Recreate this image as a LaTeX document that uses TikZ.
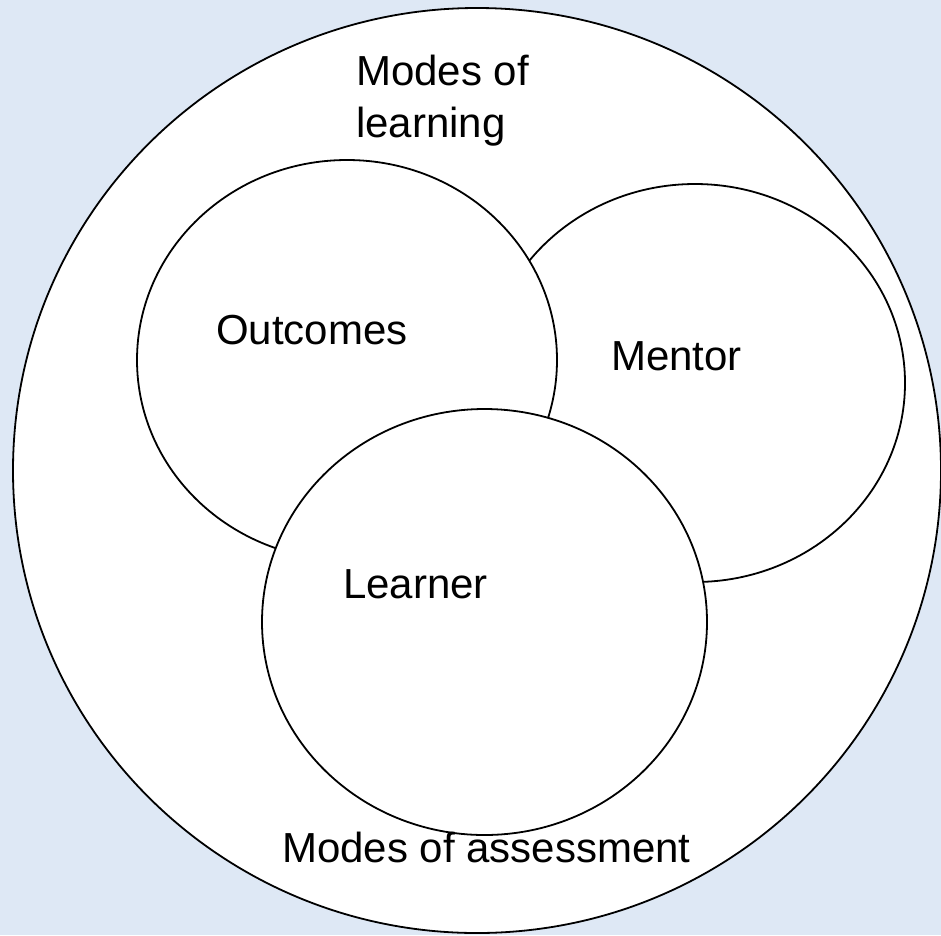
\documentclass[tikz,border=0pt]{standalone}
\usepackage{fontspec}
\setmainfont{Liberation Sans}
\definecolor{bgblue}{RGB}{222,232,245}
\tikzset{
  ring/.style={draw=black, fill=white, line width=1.8pt},
  lbl/.style={inner sep=0pt, anchor=base west, font=\fontsize{42}{52}\selectfont, text=black}
}
\begin{document}
\begin{tikzpicture}[x=1pt,y=-1pt]
  \useasboundingbox (0,0) rectangle (941,935);
  \clip (0,0) rectangle (941,935);
  \fill[bgblue] (0,0) rectangle (941,935);
  % outer ring
  \draw[ring] (477,470.5) ellipse [x radius=464pt, y radius=462.5pt];
  % mentor (behind)
  \draw[ring] (695,383) ellipse [x radius=210pt, y radius=199pt];
  % outcomes
  \draw[ring] (347,360) ellipse [x radius=210pt, y radius=200pt];
  % learner (front)
  \draw[ring] (484.5,622) ellipse [x radius=222.5pt, y radius=213pt];
  % labels
  \node[lbl, align=left] (learning) at (356,137) {Modes of\\learning};
  \node[lbl] (outcomes) at (216,344) {Outcomes};
  \node[lbl] (mentor) at (611,370) {Mentor};
  \node[lbl] (learner) at (343,598) {Learner};
  \node[lbl] (assessment) at (282,862) {Modes of assessment};
\end{tikzpicture}
\end{document}
